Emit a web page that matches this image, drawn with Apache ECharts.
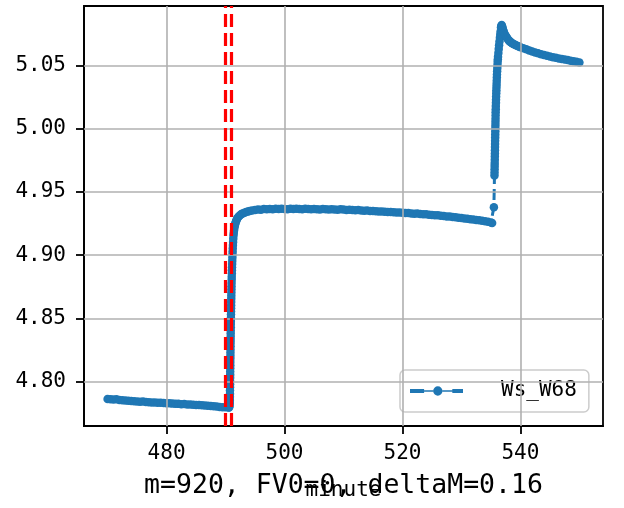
<!DOCTYPE html>
<html>
<head>
<meta charset="utf-8">
<script src="https://cdn.jsdelivr.net/npm/echarts@6/dist/echarts.min.js"></script>
<style>html,body{margin:0;padding:0;background:#fff}#c{width:624px;height:508px}</style>
</head>
<body>
<div id="c"></div>
<script>
// ---- data ----
const seriesName = 'Ws_W68';
// before the first step
const minuteA = [470.0,470.5,471.0,471.5,472.0,472.5,473.0,473.5,474.0,474.5,475.0,475.5,476.0,476.5,477.0,477.5,478.0,478.5,479.0,479.5,
480.0,480.5,481.0,481.5,482.0,482.5,483.0,483.5,484.0,484.5,485.0,485.5,486.0,486.5,487.0,487.5,488.0,488.5,489.0,489.5,490.0,490.5,490.6];
const valueA = [4.7862,4.7860,4.7858,4.7861,4.7855,4.7853,4.7850,4.7848,4.7846,4.7845,4.7843,4.7840,4.7842,4.7838,4.7836,4.7835,4.7834,4.7832,4.7833,4.7830,
4.7829,4.7828,4.7826,4.7825,4.7824,4.7822,4.7823,4.7820,4.7819,4.7818,4.7816,4.7815,4.7814,4.7812,4.7810,4.7808,4.7806,4.7803,4.7800,4.7798,4.7797,4.7796,4.7795];
// first step
const minuteB = [490.70,490.72,490.73,490.74,490.75,490.75,490.76,490.77,490.77,490.78,490.79,490.79,490.80,490.81,490.81,490.82,490.83,490.83,490.84,490.85,
490.85,490.86,490.87,490.87,490.88,490.89,490.89,490.90,490.91,490.92,490.93,490.94,490.95,490.96,490.97,490.98,490.99,491.00,491.01,491.02,
491.04,491.05,491.07,491.08,491.10,491.12,491.14,491.16,491.18,491.20,491.22,491.25,491.28,491.31,491.35,491.39,491.44,491.50,491.56,491.63,
491.70,491.80,491.90,492.00,492.15,492.30,492.50,492.70,492.90,493.20,493.50,493.80,494.10,494.50];
const valueB = [4.7810,4.7830,4.7855,4.7880,4.7905,4.7930,4.7955,4.7980,4.8005,4.8030,4.8055,4.8080,4.8105,4.8130,4.8155,4.8180,4.8205,4.8230,4.8255,4.8280,
4.8305,4.8330,4.8355,4.8380,4.8405,4.8430,4.8455,4.8480,4.8505,4.8530,4.8555,4.8580,4.8605,4.8630,4.8655,4.8680,4.8705,4.8730,4.8755,4.8780,
4.8805,4.8830,4.8855,4.8880,4.8905,4.8930,4.8955,4.8980,4.9005,4.9030,4.9055,4.9080,4.9105,4.9130,4.9155,4.9175,4.9195,4.9215,4.9230,4.9245,
4.9258,4.9270,4.9282,4.9292,4.9302,4.9310,4.9318,4.9325,4.9330,4.9336,4.9341,4.9346,4.9350,4.9354];
// plateau
const minuteC = [495.0,495.5,496.0,496.5,497.0,497.5,498.0,498.5,499.0,499.5,500.0,500.5,501.0,501.5,502.0,502.5,503.0,503.5,504.0,504.5,
505.0,505.5,506.0,506.5,507.0,507.5,508.0,508.5,509.0,509.5,510.0,510.5,511.0,511.5,512.0,512.5,513.0,513.5,514.0,514.5,
515.0,515.5,516.0,516.5,517.0,517.5,518.0,518.5,519.0,519.5,520.0,520.5,521.0,521.5,522.0,522.5,523.0,523.5,524.0,524.5,
525.0,525.5,526.0,526.5,527.0,527.5,528.0,528.5,529.0,529.5,530.0,530.5,531.0,531.5,532.0,532.5,533.0,533.5,534.0,534.5,535.0,535.2];
const valueC = [4.9358,4.9362,4.9360,4.9365,4.9363,4.9366,4.9364,4.9367,4.9365,4.9368,4.9366,4.9364,4.9367,4.9365,4.9368,4.9366,4.9364,4.9367,4.9365,4.9363,
4.9366,4.9364,4.9362,4.9365,4.9363,4.9361,4.9364,4.9362,4.9360,4.9363,4.9361,4.9358,4.9360,4.9357,4.9355,4.9357,4.9353,4.9351,4.9353,4.9349,
4.9350,4.9347,4.9345,4.9346,4.9343,4.9341,4.9342,4.9339,4.9337,4.9338,4.9335,4.9333,4.9334,4.9330,4.9328,4.9329,4.9325,4.9323,4.9324,4.9320,
4.9318,4.9315,4.9316,4.9312,4.9310,4.9306,4.9307,4.9303,4.9300,4.9297,4.9295,4.9291,4.9289,4.9285,4.9282,4.9279,4.9276,4.9272,4.9268,4.9264,4.9258,4.9255];
// second step and peak
const minuteD = [535.50,535.60,535.61,535.62,535.63,535.64,535.65,535.66,535.67,535.68,535.69,535.70,535.71,535.72,535.73,535.74,535.75,535.76,535.77,535.78,
535.79,535.80,535.82,535.83,535.85,535.86,535.88,535.90,535.92,535.94,535.96,535.98,536.00,536.02,536.05,536.08,536.11,536.14,536.17,536.20,
536.26,536.32,536.38,536.45,536.52,536.58,536.64,536.70,536.76,536.82,536.88,536.95,537.02,537.10,537.18,537.27,537.37,537.48,537.60,537.72,
537.85,538.00,538.15,538.30,538.45,538.60,538.80,539.00,539.25,539.50,539.75];
const valueD = [4.9380,4.9630,4.9655,4.9680,4.9705,4.9730,4.9755,4.9780,4.9805,4.9830,4.9855,4.9880,4.9905,4.9930,4.9955,4.9980,5.0005,5.0030,5.0055,5.0080,
5.0105,5.0130,5.0155,5.0180,5.0205,5.0230,5.0255,5.0280,5.0305,5.0330,5.0355,5.0380,5.0405,5.0430,5.0455,5.0480,5.0505,5.0530,5.0550,5.0570,
5.0600,5.0630,5.0660,5.0690,5.0720,5.0745,5.0770,5.0800,5.0815,5.0820,5.0812,5.0800,5.0787,5.0775,5.0764,5.0754,5.0744,5.0735,5.0727,5.0719,
5.0710,5.0700,5.0693,5.0687,5.0682,5.0677,5.0671,5.0666,5.0660,5.0655,5.0650];
// decay
const minuteE = [540.0,540.5,541.0,541.5,542.0,542.5,543.0,543.5,544.0,544.5,545.0,545.5,546.0,546.5,547.0,547.5,548.0,548.5,549.0,549.5,550.0];
const valueE = [5.0645,5.0636,5.0628,5.0620,5.0612,5.0604,5.0597,5.0590,5.0583,5.0577,5.0572,5.0566,5.0561,5.0556,5.0551,5.0547,5.0543,5.0538,5.0534,5.0530,5.0525];

const markerMinutes = [490, 491];
const xTicks = [480, 500, 520, 540];
const yTicks = [4.80, 4.85, 4.90, 4.95, 5.00, 5.05];
const xRange = [466, 554];
const yRange = [4.7649, 5.0971];
const footerText = 'm=920, FV0=0, deltaM=0.16';
const xName = 'minute';

// ---- chart ----
const FONT = 'DejaVu Sans Mono';
const chart = echarts.init(document.getElementById('c'), null, {renderer: 'canvas'});
const minute = [].concat(minuteA, minuteB, minuteC, minuteD, minuteE);
const value = [].concat(valueA, valueB, valueC, valueD, valueE);
const pts = minute.map((m, i) => [m, value[i]]);
const G = {left: 84, top: 6, width: 519, height: 420};
// legend glyph: dash, dot, dash (matplotlib style '--.')
const legendIcon = 'path://M0,4H14V8H0Z M23,6A4.6,4.6 0 1 0 32.2,6A4.6,4.6 0 1 0 23,6Z M14,5.2H23V6.8H14Z M32.2,5.2H42V6.8H32.2Z M42,4H52.6V8H42Z';

chart.setOption({
  animation: false,
  backgroundColor: '#fff',
  grid: Object.assign({show: true, borderColor: '#000', borderWidth: 1.8, backgroundColor: 'transparent'}, G),
  xAxis: {
    type: 'value', min: xRange[0], max: xRange[1],
    name: xName, nameLocation: 'middle', nameGap: 54,
    nameTextStyle: {fontFamily: FONT, fontSize: 21, color: '#000'},
    axisLine: {show: true, onZero: false, lineStyle: {color: '#000', width: 1.8}},
    axisTick: {show: true, length: 8, lineStyle: {color: '#000', width: 1.8}, customValues: xTicks},
    axisLabel: {fontFamily: FONT, fontSize: 21, color: '#000', margin: 17, customValues: xTicks, formatter: v => String(v)},
    splitLine: {show: false}
  },
  yAxis: {
    type: 'value', min: yRange[0], max: yRange[1],
    axisLine: {show: true, onZero: false, lineStyle: {color: '#000', width: 1.8}},
    axisTick: {show: true, length: 8, lineStyle: {color: '#000', width: 1.8}, customValues: yTicks},
    axisLabel: {fontFamily: FONT, fontSize: 21, color: '#000', margin: 18, customValues: yTicks, formatter: v => v.toFixed(2)},
    splitLine: {show: false}
  },
  legend: {
    data: [{name: seriesName, icon: legendIcon}],
    left: 400, top: 370,
    padding: [9, 12, 9, 10],
    backgroundColor: 'rgba(255,255,255,0.8)',
    borderColor: '#cccccc', borderWidth: 1.5, borderRadius: 5,
    itemWidth: 53, itemHeight: 12,
    itemStyle: {color: '#1f77b4', borderWidth: 0},
    textStyle: {fontFamily: FONT, fontSize: 21, color: '#000', padding: [0, 0, 0, 33], lineHeight: 24}
  },
  series: [
    {
      name: 'grid', type: 'line', data: [], silent: true, z: 1,
      markLine: {
        silent: true, symbol: 'none', animation: false,
        label: {show: false},
        lineStyle: {color: '#b0b0b0', width: 1.6, type: 'solid'},
        data: xTicks.map(v => ({xAxis: v})).concat(yTicks.map(v => ({yAxis: v})))
      }
    },
    {
      name: seriesName, type: 'line', data: pts, z: 3,
      symbol: 'circle', symbolSize: 8.5, showSymbol: true, showAllSymbol: true,
      itemStyle: {color: '#1f77b4'},
      lineStyle: {color: '#1f77b4', width: 3, type: [11, 5]}
    },
    {
      name: 'markers', type: 'line', data: [], silent: true, z: 4,
      markLine: {
        silent: true, symbol: 'none', animation: false,
        label: {show: false},
        lineStyle: {color: '#ff0000', width: 3.2, type: [13, 6]},
        data: markerMinutes.map(v => ({xAxis: v}))
      }
    }
  ],
  graphic: [{
    type: 'text', x: G.left + G.width / 2, y: 486,
    style: {text: footerText, fontFamily: FONT, fontSize: 26.5, fill: '#000', align: 'center', verticalAlign: 'middle'},
    z: 10
  }]
});
</script>
</body>
</html>
